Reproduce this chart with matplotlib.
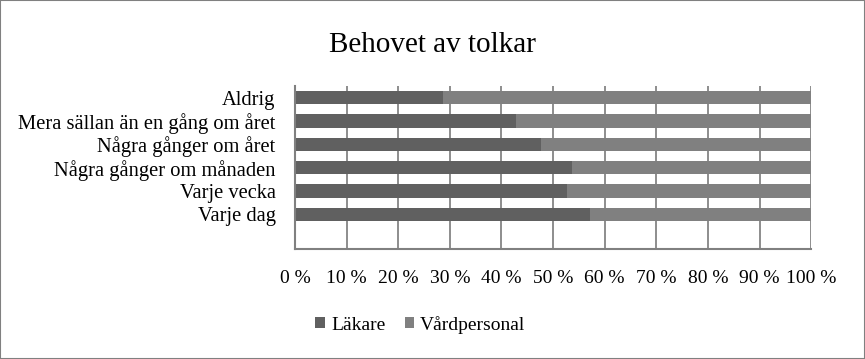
import numpy as np
import matplotlib
matplotlib.use("Agg")
from matplotlib import pyplot as plt
from matplotlib.patches import Rectangle

plt.rcParams['font.family'] = ['Liberation Serif', 'DejaVu Serif']

# categories top -> bottom, last slot is empty in the original
categories = ["Aldrig", "Mera sällan än en gång om året", "Några gånger om året",
              "Några gånger om månaden", "Varje vecka", "Varje dag", ""]
lakare = [28.7, 42.8, 47.7, 53.7, 52.7, 57.2, 0]
vardpersonal = [100 - v if c else 0 for v, c in zip(lakare, categories)]
xticks = np.arange(0, 101, 10)
xlabels = ["%d %%" % t for t in xticks]

fig = plt.figure(figsize=(8.65, 3.59), dpi=100)
ax = fig.add_axes([0.341, 0.306, 0.5968, 0.454])

y = np.arange(len(categories))
ax.barh(y, lakare, height=0.57, color="#606060", zorder=2, label="Läkare")
ax.barh(y, vardpersonal, left=lakare, height=0.57, color="#808080", zorder=2,
        label="Vårdpersonal")

ax.set_ylim(len(categories) - 0.5, -0.5)
ax.set_xlim(0, 100)
ax.set_yticks(y)
ax.set_yticklabels(categories, fontsize=14.8)
ax.set_xticks(xticks)
ax.set_xticklabels(xlabels, fontsize=14)
ax.tick_params(axis="both", length=0)
ax.tick_params(axis="x", pad=15)
ax.tick_params(axis="y", pad=14)

ax.grid(axis="x", color="#808080", linewidth=1.25, zorder=0)
ax.set_axisbelow(True)
for s in ["top", "right"]:
    ax.spines[s].set_visible(False)
ax.spines["left"].set_color("#808080")
ax.spines["left"].set_linewidth(1.5)
ax.spines["bottom"].set_color("#808080")
ax.spines["bottom"].set_linewidth(1.5)

fig.text(0.5, 0.875, "Behovet av tolkar", ha="center", va="center", fontsize=21)

fig.legend(loc="center", bbox_to_anchor=(0.486, 0.095), ncol=2, frameon=False,
           fontsize=14, handlelength=0.5, handleheight=0.5, handletextpad=0.3,
           columnspacing=1.0)

fig.patches.append(Rectangle((0, 0), 1, 1, transform=fig.transFigure, fill=False,
                             edgecolor="#808080", linewidth=1.5))

fig.savefig("out.png", dpi=100)
